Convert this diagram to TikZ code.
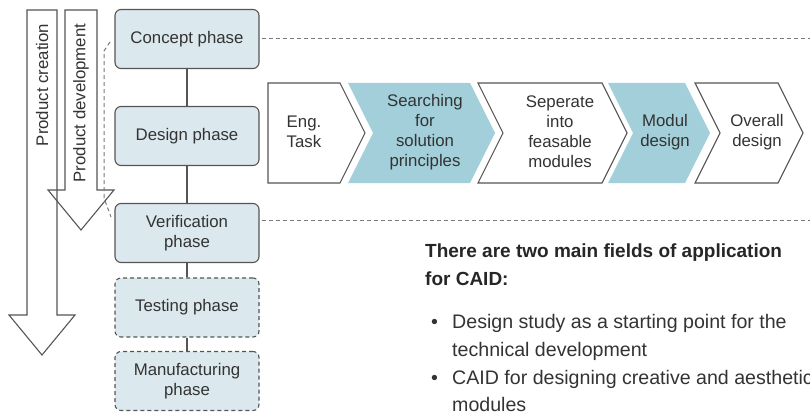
\documentclass[tikz,border=0pt]{standalone}
\usepackage{fontspec}
\setmainfont{Liberation Sans}
\definecolor{boxfill}{HTML}{DBE8EE}
\definecolor{chev}{HTML}{A2CFD9}
\definecolor{linec}{HTML}{555555}
\definecolor{guidec}{HTML}{7A7A7A}
\definecolor{txt}{HTML}{333333}
\begin{document}
\begin{tikzpicture}[x=1pt,y=-1pt,
  phase/.style={draw=linec, line width=1.1pt, fill=boxfill, rounded corners=6pt,
    minimum width=144pt, minimum height=59pt, align=center,
    font=\fontsize{16.8}{20}\selectfont, text=txt, inner sep=0pt},
  phasedash/.style={phase, dash pattern=on 4pt off 3pt},
  conn/.style={draw=linec, line width=1.1pt},
  guide/.style={draw=guidec, line width=1pt, dash pattern=on 4pt off 3pt},
  chevw/.style={draw=linec, line width=1.1pt, fill=white, line join=miter},
  chevb/.style={fill=chev},
  chevtext/.style={align=center, font=\fontsize{16.8}{20}\selectfont, text=txt},
  bigarrow/.style={draw=linec, line width=1.1pt},
  arrowlabel/.style={rotate=90, font=\fontsize{16.8}{20}\selectfont, text=txt},
  headtext/.style={anchor=base west, font=\fontsize{19}{23}\selectfont\bfseries, text=black!85, inner sep=0pt},
  bullettext/.style={anchor=base west, font=\fontsize{19.6}{23}\selectfont, text=txt, inner sep=0pt}
]
\useasboundingbox (0,0) rectangle (810,414);

% big arrows
\draw[bigarrow] (27,10) -- (57,10) -- (57,315) -- (75,315) -- (42,355) -- (9,315) -- (27,315) -- cycle;
\draw[bigarrow] (65,10) -- (97,10) -- (97,190) -- (114,190) -- (81,230) -- (48,190) -- (65,190) -- cycle;
\node[arrowlabel] (pc) at (42,85) {Product creation};
\node[arrowlabel] (pd) at (81,103) {Product development};

% phase boxes
\node[phase] (concept) at (187,39) {Concept phase};
\node[phase] (design) at (187,136) {Design phase};
\node[phase] (verif) at (187,233) {Verification\\phase};
\node[phasedash] (testing) at (187,307.5) {Testing phase};
\node[phasedash] (manuf) at (187,381) {Manufacturing\\phase};
\draw[conn] (concept) -- (design);
\draw[conn] (design) -- (verif);
\draw[conn] (verif) -- (testing);
\draw[conn] (testing) -- (manuf);

% dashed guides
\coordinate (g1) at (810,39);
\coordinate (g2) at (810,220);
\coordinate (b0) at (110,42);
\coordinate (b1) at (104,51);
\coordinate (b2) at (104,198);
\coordinate (b3) at (111,217);
\draw[guide] ([xshift=2pt]concept.east) -- (g1);
\draw[guide] ([xshift=2pt]verif.east |- g2) -- (g2);
\draw[guide] (b0) -- (b1) -- (b2) -- (b3);

% chevrons
\draw[chevw] (268,83) -- (340,83) -- (365,133) -- (340,183) -- (268,183) -- cycle;
\fill[chevb] (348,83) -- (470,83) -- (495,133) -- (470,183) -- (348,183) -- (373,133) -- cycle;
\draw[chevw] (478,83) -- (602,83) -- (627,133) -- (602,183) -- (478,183) -- (503,133) -- cycle;
\fill[chevb] (608,83) -- (685,83) -- (710,133) -- (685,183) -- (608,183) -- (633,133) -- cycle;
\draw[chevw] (695,83) -- (778,83) -- (803,133) -- (778,183) -- (695,183) -- (720,133) -- cycle;
\node[chevtext] (t1) at (304,132) {Eng.\\Task};
\node[chevtext] (t2) at (425,132) {Searching\\for\\solution\\principles};
\node[chevtext] (t3) at (560,132) {Seperate\\into\\feasable\\modules};
\node[chevtext] (t4) at (665,132) {Modul\\design};
\node[chevtext] (t5) at (757,132) {Overall\\design};

% right text
\node[headtext] (h1) at (425,257) {There are two main fields of application};
\node[headtext] (h2) at (425,285) {for CAID:};
\node[bullettext] (d1) at (431,328) {\textbullet};
\node[bullettext] (l1) at (452,328) {Design study as a starting point for the};
\node[bullettext] (l2) at (452,356) {technical development};
\node[bullettext] (d2) at (431,384) {\textbullet};
\node[bullettext] (l3) at (452,384) {CAID for designing creative and aesthetic};
\node[bullettext] (l4) at (452,411) {modules};
\end{tikzpicture}
\end{document}
